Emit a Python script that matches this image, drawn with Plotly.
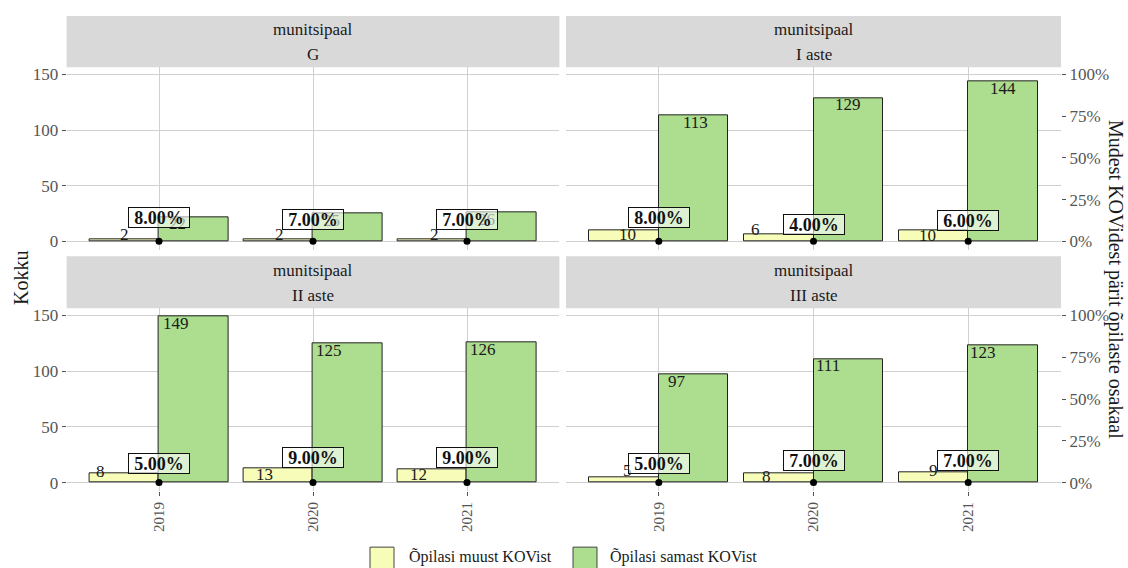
import plotly.graph_objects as go

# ---------------- data ----------------
years = ["2019", "2020", "2021"]
levels = ["G", "I aste", "II aste", "III aste"]
facet_label = "munitsipaal"

muust_G = [2, 2, 2]
muust_I = [10, 6, 10]
muust_II = [8, 13, 12]
muust_III = [5, 8, 9]

samast_G = [22, 25, 26]
samast_I = [113, 129, 144]
samast_II = [149, 125, 126]
samast_III = [97, 111, 123]

osakaal_G = [8, 7, 7]
osakaal_I = [8, 4, 6]
osakaal_II = [5, 9, 9]
osakaal_III = [5, 7, 7]

y_ticks = [0, 50, 100, 150]
pct_ticks = [0, 0.25, 0.5, 0.75, 1.0]
pct_ticktext = ["0%", "25%", "50%", "75%", "100%"]

series_muust = "Õpilasi muust KOVist"
series_samast = "Õpilasi samast KOVist"
y_title = "Kokku"
y2_title = "Mudest KOVidest pärit õpilaste osakaal"

muust = [muust_G, muust_I, muust_II, muust_III]
samast = [samast_G, samast_I, samast_II, samast_III]
osakaal = [osakaal_G, osakaal_I, osakaal_II, osakaal_III]

# ---------------- style ----------------
FONT = "Liberation Serif"
C_MUUST = "#f7fcb9"
C_SAMAST = "#addd8e"
GRID = "#d0d0d0"
TICKC = "#555555"
TXT = "#1a1a1a"
STRIP = "#d9d9d9"
W, H = 1128, 568
YMAX = 156.45
YMIN = -7.45
SEC = 150.0  # 100% on secondary axis == 150 on primary

# label jitter (px) mimicking the reference
jit_m_dx = [[0, 1, 2], [3, -23, -6], [-24, -14, -14], [3, -12, 0]]
jit_m_dy = [[-5, -5, -5], [4, -5, 5], [-2, 6, 5], [-7, 3, -2]]
jit_s_dx = [[-16, -16, -15], [2, 0, 0], [-18, -19, -19], [-16, -20, -20]]
jit_s_dy = [[7, 7, 7], [7, 7, 7], [7, 7, 7], [7, 7, 7]]

# panel geometry in pixels
px_x = [(66.6, 559.4), (566.0, 1061.0), (66.6, 559.4), (566.0, 1061.0)]
px_y = [(65.8, 249.4), (65.8, 249.4), (308.5, 492.4), (308.5, 492.4)]
strip_y = [(14, 65.8), (14, 65.8), (256, 308.5), (256, 308.5)]


def fx(p):
    return p / W


def fy(p):
    return 1 - p / H


fig = go.Figure()
annotations = []
shapes = []
half_bar_px = 0.225 * ((px_x[0][1] - px_x[0][0]) / 3.2)

for i, lev in enumerate(levels):
    xa = "x" if i == 0 else f"x{i+1}"
    ya = "y" if i == 0 else f"y{i+1}"
    fig.add_trace(go.Bar(
        x=years, y=muust[i], name=series_muust, xaxis=xa, yaxis=ya,
        width=0.45, offset=-0.45, marker=dict(color=C_MUUST, line=dict(color="#222", width=1)),
        showlegend=False, hoverinfo="skip"))
    fig.add_trace(go.Bar(
        x=years, y=samast[i], name=series_samast, xaxis=xa, yaxis=ya,
        width=0.45, offset=0.0, marker=dict(color=C_SAMAST, line=dict(color="#222", width=1)),
        showlegend=False, hoverinfo="skip"))
    fig.add_trace(go.Scatter(
        x=years, y=[p / 100 for p in osakaal[i]], mode="markers", xaxis=xa, yaxis=ya,
        marker=dict(color="black", size=7), showlegend=False, hoverinfo="skip"))

    # count labels (x given as category index)
    for j, yr in enumerate(years):
        annotations.append(dict(
            x=j, y=muust[i][j], xref=xa, yref=ya, text=str(muust[i][j]),
            showarrow=False, xanchor="center", yanchor="middle",
            xshift=-half_bar_px + jit_m_dx[i][j], yshift=-jit_m_dy[i][j],
            font=dict(family=FONT, size=17, color=TXT)))
        annotations.append(dict(
            x=j, y=samast[i][j], xref=xa, yref=ya, text=str(samast[i][j]),
            showarrow=False, xanchor="center", yanchor="middle",
            xshift=half_bar_px + jit_s_dx[i][j], yshift=-jit_s_dy[i][j],
            font=dict(family=FONT, size=17, color=TXT)))
    # percent labels
    for j, yr in enumerate(years):
        annotations.append(dict(
            x=j, y=osakaal[i][j] / 100 * SEC, xref=xa, yref=ya,
            text=f"<b>{osakaal[i][j]:.2f}%</b>", showarrow=False,
            xanchor="center", yanchor="bottom", width=60, height=19, valign="middle",
            bgcolor="rgba(255,255,255,0.6)", bordercolor="#111", borderwidth=1, borderpad=0,
            font=dict(family=FONT, size=18, color="#111")))

    # strip
    x0, x1 = px_x[i]
    s0, s1 = strip_y[i]
    shapes.append(dict(type="rect", xref="paper", yref="paper",
                       x0=fx(x0), x1=fx(x1), y0=fy(s1), y1=fy(s0),
                       fillcolor=STRIP, line=dict(width=0), layer="below"))
    annotations.append(dict(x=fx((x0 + x1) / 2), y=fy(s0 + (s1 - s0) * 0.27), xref="paper", yref="paper",
                            text=facet_label, showarrow=False, xanchor="center", yanchor="middle",
                            font=dict(family=FONT, size=17, color=TXT)))
    annotations.append(dict(x=fx((x0 + x1) / 2), y=fy(s0 + (s1 - s0) * 0.76), xref="paper", yref="paper",
                            text=lev, showarrow=False, xanchor="center", yanchor="middle",
                            font=dict(family=FONT, size=17, color=TXT)))

    # axes
    bottom = i >= 2
    left = i % 2 == 0
    xkey = "xaxis" if i == 0 else f"xaxis{i+1}"
    ykey = "yaxis" if i == 0 else f"yaxis{i+1}"
    fig.layout[xkey] = dict(
        domain=[fx(x0), fx(x1)], anchor=ya, type="category",
        categoryorder="array", categoryarray=years, range=[-0.6, 2.6],
        showgrid=True, gridcolor=GRID, gridwidth=1, zeroline=False,
        showticklabels=bottom, ticks="outside" if bottom else "", ticklen=4, tickcolor=TICKC,
        tickangle=-90, tickfont=dict(family=FONT, size=15, color=TICKC),
        showline=False, fixedrange=True)
    fig.layout[ykey] = dict(
        domain=[fy(px_y[i][1]), fy(px_y[i][0])], anchor=xa, range=[YMIN, YMAX],
        tickvals=y_ticks, showgrid=True, gridcolor=GRID, gridwidth=1, zeroline=False,
        showticklabels=left, ticks="outside" if left else "", ticklen=4, tickcolor=TICKC,
        tickfont=dict(family=FONT, size=17, color=TICKC), showline=False, fixedrange=True)

# secondary (percentage) axes on right panels
for k, (pan, key) in enumerate([(1, "yaxis5"), (3, "yaxis6")]):
    xa = f"x{pan+1}"
    fig.add_trace(go.Scatter(x=[years[0]], y=[0], xaxis=xa, yaxis=f"y{5+k}",
                             mode="markers", marker=dict(opacity=0), showlegend=False, hoverinfo="skip"))
    fig.layout[key] = dict(
        overlaying=f"y{pan+1}", anchor=xa, side="right",
        range=[YMIN / SEC, YMAX / SEC], tickvals=pct_ticks, ticktext=pct_ticktext,
        showgrid=False, zeroline=False, ticks="outside", ticklen=4, tickcolor=TICKC,
        tickfont=dict(family=FONT, size=17, color=TICKC), showline=False, fixedrange=True)

# axis titles
annotations.append(dict(x=fx(21), y=fy(278), xref="paper", yref="paper", text=y_title,
                        textangle=-90, showarrow=False, xanchor="center", yanchor="middle",
                        font=dict(family=FONT, size=20, color=TXT)))
annotations.append(dict(x=fx(1116), y=fy(279), xref="paper", yref="paper", text=y2_title,
                        textangle=90, showarrow=False, xanchor="center", yanchor="middle",
                        font=dict(family=FONT, size=20, color=TXT)))

# manual legend (large keys as in the reference)
legend_items = [(series_muust, C_MUUST, 370, 407), (series_samast, C_SAMAST, 573, 608)]
for name, col, kx, tx in legend_items:
    shapes.append(dict(type="rect", xref="paper", yref="paper",
                       x0=fx(kx), x1=fx(kx + 24), y0=fy(572), y1=fy(549),
                       fillcolor=col, line=dict(color="#444", width=1)))
    annotations.append(dict(x=fx(tx), y=fy(559), xref="paper", yref="paper", text=name,
                            showarrow=False, xanchor="left", yanchor="middle",
                            font=dict(family=FONT, size=16, color=TXT)))

fig.update_layout(
    width=W, height=H, autosize=False,
    margin=dict(l=0, r=0, t=0, b=0),
    paper_bgcolor="white", plot_bgcolor="white",
    barmode="overlay", bargap=0,
    showlegend=False,
    annotations=annotations, shapes=shapes,
    font=dict(family=FONT),
)

fig.write_html("out.html", config={"displayModeBar": False},
               post_script="document.body.style.margin='0';document.body.style.overflow='hidden';")
